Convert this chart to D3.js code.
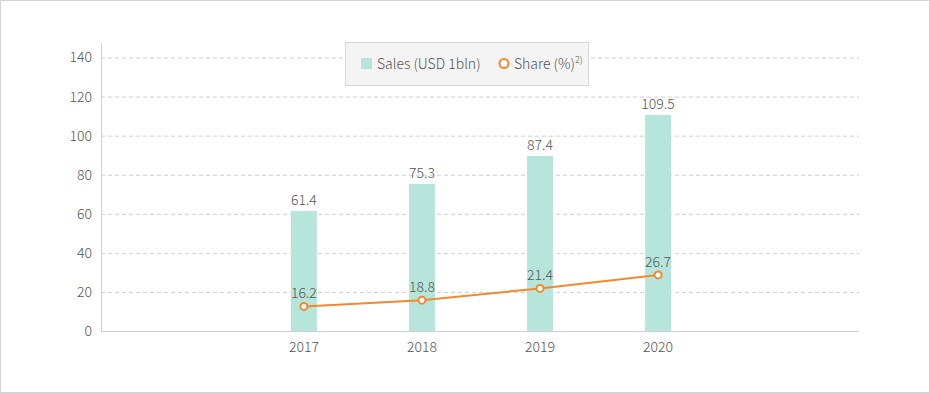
<!DOCTYPE html>
<html>
<head>
<meta charset="utf-8">
<script src="https://cdn.jsdelivr.net/npm/d3@7"></script>
<style>
  body { margin: 0; background: #fff; }
  text { font-family: "Noto Sans CJK KR", "Noto Sans", sans-serif; font-weight: 300; fill: #555; }
</style>
</head>
<body>
<div id="chart"></div>
<script>
// Chart data
var years = ["2017", "2018", "2019", "2020"];
var salesValues = [61.4, 75.3, 89.6, 110.6];
var salesLabels = ["61.4", "75.3", "87.4", "109.5"];
var shareValues = [12.6, 15.8, 21.8, 28.7];
var shareLabels = ["16.2", "18.8", "21.4", "26.7"];
var yTicks = [0, 20, 40, 60, 80, 100, 120, 140];

var svgWidth = 930;
var svgHeight = 393;

var margin = { top: 43, right: 71, bottom: 62, left: 101 };
var width = svgWidth - margin.left - margin.right;
var height = svgHeight - margin.top - margin.bottom;

var svg = d3.select("#chart")
  .append("svg")
  .attr("width", svgWidth)
  .attr("height", svgHeight);

// outer frame
svg.append("rect")
  .attr("x", 0.5).attr("y", 0.5)
  .attr("width", svgWidth - 1).attr("height", svgHeight - 1)
  .attr("fill", "none")
  .attr("stroke", "#d4d4d4");

var chartGroup = svg.append("g")
  .attr("transform", `translate(${margin.left}, ${margin.top})`);

// scales
var xScale = d3.scaleBand()
  .domain(years)
  .range([1, width + 1])
  .paddingInner(0.78)
  .paddingOuter(1.6);

var yScale = d3.scaleLinear()
  .domain([0, 140])
  .range([height, 14.5]);

// gridlines
var grid = chartGroup.append("g")
  .call(d3.axisLeft(yScale).tickValues(yTicks.slice(1)).tickSize(-width).tickFormat(""));
grid.select(".domain").remove();
grid.selectAll("line")
  .attr("stroke", "#cfcfcf")
  .attr("stroke-dasharray", "4,3");

// y axis
var yAxis = chartGroup.append("g")
  .call(d3.axisLeft(yScale).tickValues(yTicks).tickSize(0).tickPadding(9));
yAxis.select(".domain").remove();
yAxis.selectAll("text")
  .style("font-size", "14px")
  .attr("fill", "#555");

chartGroup.append("line")
  .attr("x1", 0.5).attr("x2", 0.5)
  .attr("y1", 0).attr("y2", height)
  .attr("stroke", "#cfcfcf");

// x axis
var xAxis = chartGroup.append("g")
  .attr("transform", `translate(0, ${height})`)
  .call(d3.axisBottom(xScale).tickSize(0).tickPadding(11));
xAxis.select(".domain")
  .attr("d", `M0,0.5H${width}`)
  .attr("stroke", "#cfcfcf");
xAxis.selectAll("text")
  .style("font-size", "14px")
  .attr("fill", "#555");

// bars
chartGroup.selectAll(".bar")
  .data(years)
  .enter()
  .append("rect")
  .attr("class", "bar")
  .attr("x", d => xScale(d))
  .attr("width", xScale.bandwidth())
  .attr("y", (d, i) => yScale(salesValues[i]))
  .attr("height", (d, i) => height - yScale(salesValues[i]))
  .attr("fill", "#b6e5db");

chartGroup.selectAll(".barLabel")
  .data(years)
  .enter()
  .append("text")
  .attr("class", "barLabel")
  .attr("x", d => xScale(d) + xScale.bandwidth() / 2)
  .attr("y", (d, i) => yScale(salesValues[i]) - 6)
  .style("font-size", "14px")
  .style("text-anchor", "middle")
  .text((d, i) => salesLabels[i]);

// share line
var line = d3.line()
  .x(d => xScale(d.year) + xScale.bandwidth() / 2)
  .y(d => yScale(d.value));

var shareData = years.map((y, i) => ({ year: y, value: shareValues[i], label: shareLabels[i] }));

chartGroup.append("path")
  .datum(shareData)
  .attr("d", line)
  .attr("fill", "none")
  .attr("stroke", "#f0892f")
  .attr("stroke-width", 2);

chartGroup.selectAll(".point")
  .data(shareData)
  .enter()
  .append("circle")
  .attr("class", "point")
  .attr("cx", d => xScale(d.year) + xScale.bandwidth() / 2)
  .attr("cy", d => yScale(d.value))
  .attr("r", 3.5)
  .attr("fill", "#fff")
  .attr("stroke", "#f0892f")
  .attr("stroke-width", 2);

chartGroup.selectAll(".pointLabel")
  .data(shareData)
  .enter()
  .append("text")
  .attr("class", "pointLabel")
  .attr("x", d => xScale(d.year) + xScale.bandwidth() / 2)
  .attr("y", d => yScale(d.value) - 8)
  .style("font-size", "14px")
  .style("text-anchor", "middle")
  .text(d => d.label);

// legend
var legend = svg.append("g");
legend.append("rect")
  .attr("x", 345.5).attr("y", 42.5)
  .attr("width", 243).attr("height", 43)
  .attr("fill", "#f4f4f4")
  .attr("stroke", "#d8d8d8");
legend.append("rect")
  .attr("x", 361).attr("y", 58)
  .attr("width", 11).attr("height", 11)
  .attr("fill", "#b6e5db");
legend.append("text")
  .attr("x", 377).attr("y", 68.5)
  .style("font-size", "14px")
  .text("Sales (USD 1bln)");
legend.append("circle")
  .attr("cx", 504).attr("cy", 63.5)
  .attr("r", 4.5)
  .attr("fill", "#fff")
  .attr("stroke", "#f0892f")
  .attr("stroke-width", 2);
var shareText = legend.append("text")
  .attr("x", 514).attr("y", 68.5)
  .style("font-size", "14px");
shareText.append("tspan").text("Share (%)");
shareText.append("tspan")
  .attr("dy", -6)
  .style("font-size", "9px")
  .text("2)");
</script>
</body>
</html>
